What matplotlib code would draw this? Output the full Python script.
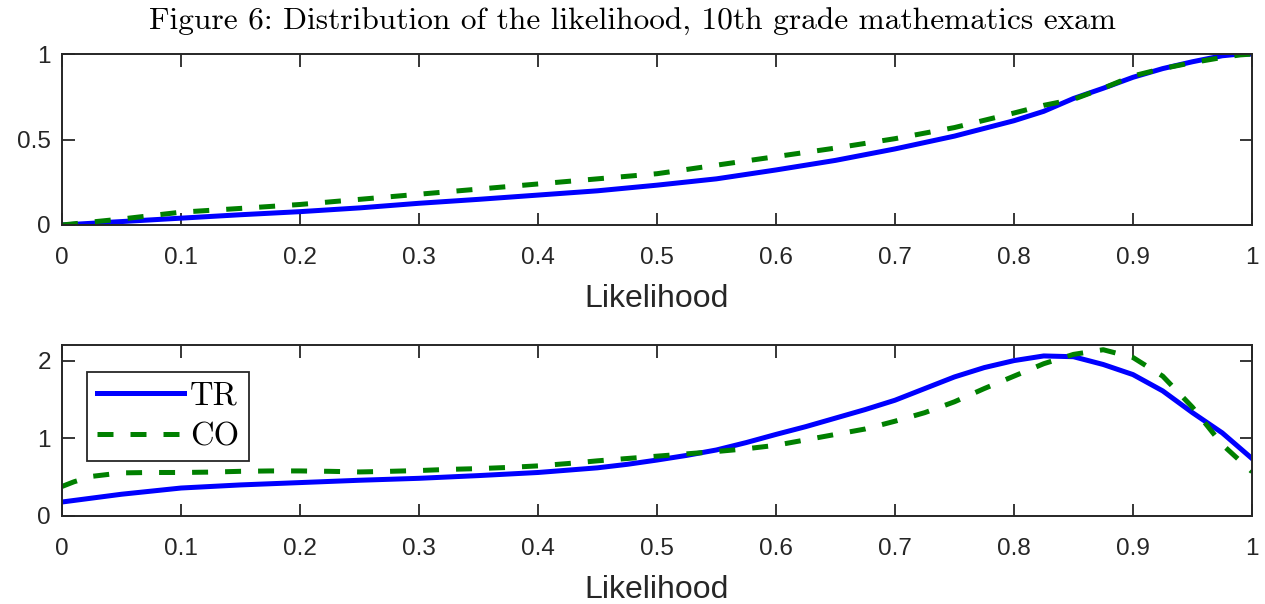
import numpy as np
import matplotlib.pyplot as plt

# Cumulative distribution of the likelihood (TR = treatment, CO = control)
x_cdf = [0.0, 0.05, 0.1, 0.15, 0.2, 0.25, 0.3, 0.35, 0.4, 0.45, 0.5, 0.55,
         0.6, 0.65, 0.7, 0.75, 0.8, 0.825, 0.85, 0.875, 0.9, 0.925, 0.95, 0.975, 0.99, 1.0]
cdf_tr = [0.0, 0.02, 0.04, 0.06, 0.078, 0.10, 0.127, 0.15, 0.175, 0.20, 0.233, 0.27,
          0.322, 0.378, 0.445, 0.52, 0.61, 0.665, 0.74, 0.80, 0.864, 0.915, 0.955, 0.99, 1.0, 1.0]
cdf_co = [0.0, 0.035, 0.075, 0.097, 0.12, 0.15, 0.18, 0.21, 0.24, 0.27, 0.30, 0.35,
          0.40, 0.45, 0.505, 0.57, 0.655, 0.70, 0.735, 0.80, 0.872, 0.915, 0.95, 0.98, 0.995, 1.0]

# Density of the likelihood
x_pdf_tr = [0.0, 0.025, 0.05, 0.075, 0.1, 0.125, 0.15, 0.175, 0.2, 0.25, 0.3, 0.35, 0.4,
            0.425, 0.45, 0.475, 0.5, 0.525, 0.55, 0.575, 0.6, 0.625, 0.65, 0.675, 0.7,
            0.725, 0.75, 0.775, 0.8, 0.825, 0.85, 0.875, 0.9, 0.925, 0.95, 0.975, 1.0]
pdf_tr = [0.18, 0.23, 0.28, 0.32, 0.36, 0.38, 0.40, 0.415, 0.43, 0.46, 0.485, 0.52, 0.56,
          0.59, 0.62, 0.665, 0.72, 0.78, 0.85, 0.945, 1.05, 1.15, 1.26, 1.37, 1.49,
          1.64, 1.79, 1.91, 2.00, 2.06, 2.05, 1.95, 1.82, 1.61, 1.33, 1.07, 0.74]
x_pdf_co = [0.0, 0.01, 0.025, 0.05, 0.075, 0.1, 0.125, 0.15, 0.175, 0.2, 0.225, 0.25,
            0.275, 0.3, 0.325, 0.35, 0.375, 0.4, 0.425, 0.45, 0.475, 0.5, 0.525, 0.55,
            0.575, 0.6, 0.625, 0.65, 0.675, 0.7, 0.725, 0.75, 0.775, 0.8, 0.825, 0.85,
            0.875, 0.9, 0.925, 0.95, 0.975, 1.0]
pdf_co = [0.38, 0.44, 0.51, 0.555, 0.56, 0.56, 0.565, 0.575, 0.58, 0.58, 0.575, 0.567,
          0.575, 0.585, 0.60, 0.61, 0.625, 0.645, 0.675, 0.71, 0.74, 0.77, 0.80, 0.83,
          0.865, 0.91, 0.98, 1.05, 1.12, 1.22, 1.33, 1.47, 1.64, 1.80, 1.96, 2.08,
          2.14, 2.04, 1.80, 1.40, 0.92, 0.57]

x_ticks = np.round(np.arange(0, 1.01, 0.1), 1)
x_ticklabels = ['0', '0.1', '0.2', '0.3', '0.4', '0.5', '0.6', '0.7', '0.8', '0.9', '1']

plt.rcParams['font.family'] = ['Liberation Sans', 'DejaVu Sans']
axis_col = '#262626'
dash = (0, (3.2, 3.4))

fig = plt.figure(figsize=(12.65, 6.04), dpi=100)
ax1 = fig.add_axes([0.049, 0.6275, 0.9407, 0.283])
ax2 = fig.add_axes([0.049, 0.1457, 0.9407, 0.283])

ax1.plot(x_cdf, cdf_tr, color='b', lw=3.6, label='TR')
ax1.plot(x_cdf, cdf_co, color='green', lw=3.6, ls=dash, label='CO')
ax1.set_ylim(0, 1)
ax1.set_yticks([0, 0.5, 1])
ax1.set_yticklabels(['0', '0.5', '1'])

ax2.plot(x_pdf_tr, pdf_tr, color='b', lw=3.6, label='TR')
ax2.plot(x_pdf_co, pdf_co, color='green', lw=3.6, ls=dash, label='CO')
ax2.set_ylim(0, 2.2)
ax2.set_yticks([0, 1, 2])
ax2.set_yticklabels(['0', '1', '2'])

for ax in (ax1, ax2):
    ax.set_xlim(0, 1)
    ax.set_xticks(x_ticks)
    ax.set_xticklabels(x_ticklabels)
    ax.tick_params(direction='in', length=9, width=1.3, top=True, right=True,
                   labelsize=17.5, colors=axis_col)
    ax.tick_params(axis='x', pad=16)
    ax.tick_params(axis='y', pad=8)
    for s in ax.spines.values():
        s.set_linewidth(1.4)
        s.set_color(axis_col)
    ax.set_xlabel('Likelihood', fontsize=23, color=axis_col, labelpad=11)

leg = ax2.legend(loc='upper left', bbox_to_anchor=(0.021, 0.842), borderaxespad=0,
                 prop={'family': 'cmr10', 'size': 23.5}, handlelength=2.67,
                 handletextpad=0.18, borderpad=0.3, labelspacing=0.35,
                 fancybox=False, framealpha=1, edgecolor=axis_col)
leg.get_frame().set_linewidth(1.3)

fig.text(0.5, 0.950, 'Figure 6: Distribution of the likelihood, 10th grade mathematics exam',
         ha='center', va='baseline', fontsize=22.6, family='cmr10')

fig.savefig('out.png', dpi=100)
